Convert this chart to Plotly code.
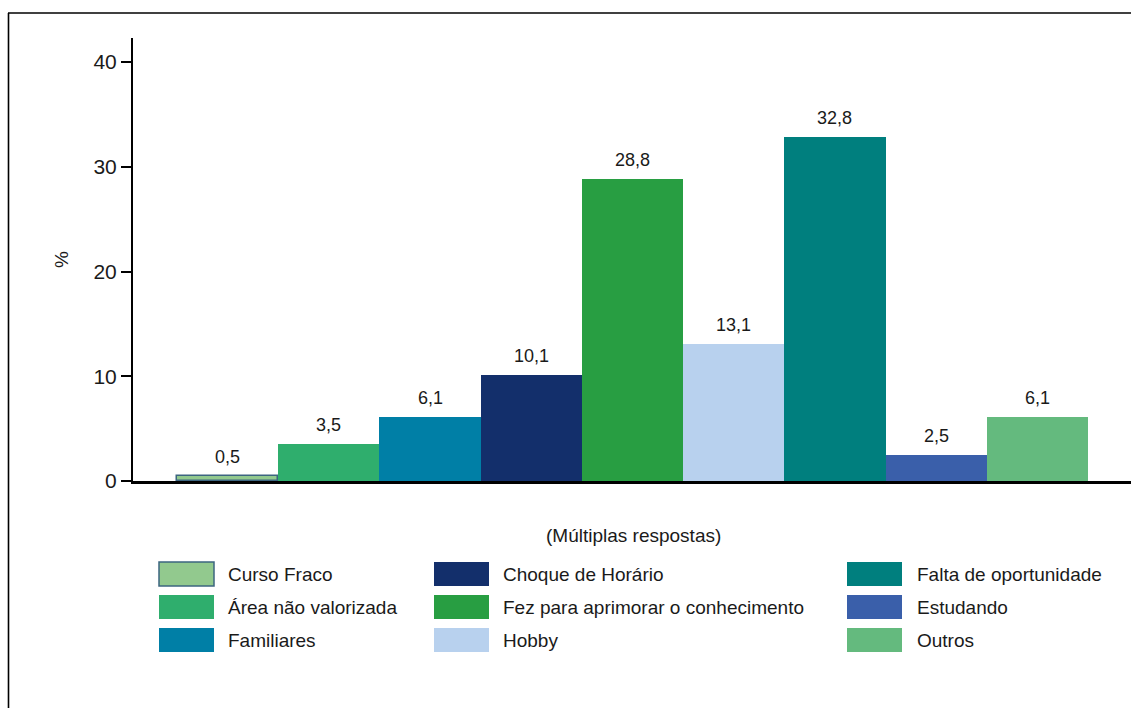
import plotly.graph_objects as go

# ---- data ----
categories = ["Curso Fraco", "Área não valorizada", "Familiares",
              "Choque de Horário", "Fez para aprimorar o conhecimento", "Hobby",
              "Falta de oportunidade", "Estudando", "Outros"]
values = [0.5, 3.5, 6.1, 10.1, 28.8, 13.1, 32.8, 2.5, 6.1]
value_labels = ["0,5", "3,5", "6,1", "10,1", "28,8", "13,1", "32,8", "2,5", "6,1"]
bar_colors = ["#92C98E", "#2FAE6D", "#007FA6", "#132F6B", "#289E42",
              "#B8D1EE", "#007F7E", "#3A5FAA", "#64BA7E"]
outline_colors = ["#3C6580", "rgba(0,0,0,0)", "rgba(0,0,0,0)", "rgba(0,0,0,0)",
                  "rgba(0,0,0,0)", "rgba(0,0,0,0)", "rgba(0,0,0,0)",
                  "rgba(0,0,0,0)", "rgba(0,0,0,0)"]
outline_widths = [1.5, 0, 0, 0, 0, 0, 0, 0, 0]
y_ticks = [0, 10, 20, 30, 40]
y_title = "%"
note = "(Múltiplas respostas)"

# ---- layout geometry (pixels) ----
W, H = 1131, 708
L, R, T, B = 133, 0, 38, 227
PW, PH = W - L - R, H - T - B
FONT = "Liberation Sans, Arial, sans-serif"
TXT = "#1a1a1a"


def px(x):
    return (x - L) / PW


def py(y):
    return (H - B - y) / PH


fig = go.Figure()
fig.add_trace(go.Bar(
    x=categories, y=values,
    marker=dict(color=bar_colors,
                line=dict(color=outline_colors, width=outline_widths)),
    width=1, showlegend=False, hoverinfo="x+y",
))

annotations = []
for c, v, t in zip(categories, values, value_labels):
    annotations.append(dict(x=c, y=v, xref="x", yref="y", text=t,
                            showarrow=False, yanchor="bottom", yshift=7,
                            font=dict(family=FONT, size=18, color=TXT)))

# y-axis title
annotations.append(dict(x=px(61), y=py(260), xref="paper", yref="paper",
                        text=y_title, showarrow=False, textangle=-90,
                        xanchor="center", yanchor="middle",
                        font=dict(family=FONT, size=19, color=TXT)))
# note
annotations.append(dict(x=px(633), y=py(535), xref="paper", yref="paper",
                        text=note, showarrow=False, xanchor="center",
                        yanchor="middle",
                        font=dict(family=FONT, size=19, color=TXT)))

shapes = []
# manual legend (3 columns x 3 rows, column-major)
col_sw_x = [159, 434, 847]
col_tx_x = [226, 501, 915]
row_top = [562, 595, 628]
sw_w, sw_h = 55, 24
for i, (name, col) in enumerate(zip(categories, bar_colors)):
    c, r = i // 3, i % 3
    x0, y0 = col_sw_x[c], row_top[r]
    shapes.append(dict(type="rect", xref="paper", yref="paper",
                       x0=px(x0), x1=px(x0 + sw_w), y0=py(y0 + sw_h), y1=py(y0),
                       fillcolor=col,
                       line=dict(color=outline_colors[i], width=outline_widths[i])))
    annotations.append(dict(x=px(col_tx_x[c]), y=py(y0 + sw_h / 2),
                            xref="paper", yref="paper", text=name,
                            showarrow=False, xanchor="left", yanchor="middle",
                            font=dict(family=FONT, size=19, color=TXT)))

# outer frame (top and left edges)
shapes.append(dict(type="line", xref="paper", yref="paper",
                   x0=px(8), x1=px(W), y0=py(13), y1=py(13),
                   line=dict(color="black", width=1.6)))
shapes.append(dict(type="line", xref="paper", yref="paper",
                   x0=px(8.5), x1=px(8.5), y0=py(13), y1=py(H + 2),
                   line=dict(color="black", width=1.6)))

fig.update_layout(
    width=W, height=H,
    margin=dict(l=L, r=R, t=T, b=B, pad=0),
    paper_bgcolor="white", plot_bgcolor="white",
    bargap=0,
    font=dict(family=FONT, color=TXT),
    xaxis=dict(type="category", range=[-0.935, 8.925], showticklabels=False,
               ticks="", showgrid=False, zeroline=False,
               showline=True, linecolor="black", linewidth=2.5, fixedrange=True),
    yaxis=dict(range=[0, 42.3], tickvals=y_ticks, ticks="outside", ticklen=10,
               tickwidth=2, tickcolor="black", showgrid=False, zeroline=False,
               showline=True, linecolor="black", linewidth=2,
               tickfont=dict(family=FONT, size=21, color=TXT), fixedrange=True),
    annotations=annotations,
    shapes=shapes,
)

fig.write_html("out.html",
               config={"displayModeBar": False},
               post_script="document.body.style.margin='0';document.body.style.overflow='hidden';")
